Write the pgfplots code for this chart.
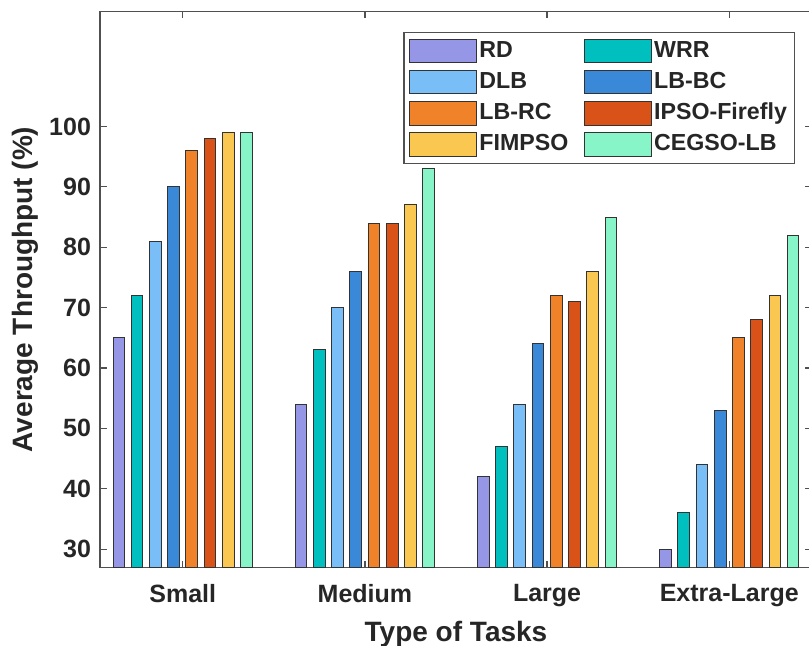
\documentclass[border=0pt]{standalone}
\usepackage{pgfplots}
\pgfplotsset{compat=1.18}
\usepackage{fontspec}
\setmainfont{Liberation Sans}
\definecolor{cRD}{HTML}{9696E6}
\definecolor{cWRR}{HTML}{00BFBF}
\definecolor{cDLB}{HTML}{7ABEF7}
\definecolor{cLBBC}{HTML}{3A88D8}
\definecolor{cLBRC}{HTML}{F0822A}
\definecolor{cIPSO}{HTML}{D95319}
\definecolor{cFIM}{HTML}{FAC850}
\definecolor{cCEG}{HTML}{88F5C8}
\definecolor{txt}{HTML}{262626}
\definecolor{axgray}{HTML}{505050}
\begin{document}
\begin{tikzpicture}
\begin{axis}[
 name=ax,
 scale only axis,
 width=356pt, height=277.8pt,
 xmin=0.546, xmax=4.454, ymin=27, ymax=119,
 xtick={1,2,3,4}, xticklabels={Small,Medium,Large,Extra-Large},
 ytick={30,40,...,100},
 ybar, bar width=0.064,
 axis line style={draw=axgray, line width=0.6pt},
 tick style={draw=axgray, line width=0.6pt},
 major tick length=3.3pt,
 tick align=inside,
 ticklabel style={font=\fontsize{12.5}{14}\selectfont\bfseries, text=txt},
 xticklabel style={yshift=-5pt},
 yticklabel style={xshift=-1pt},
 /pgf/number format/assume math mode=true,
 xlabel={Type of Tasks}, ylabel={Average Throughput (\%)},
 label style={font=\fontsize{14}{16}\selectfont\bfseries, text=txt},
 xlabel style={at={(axis description cs:0.5,-0.1332)}, anchor=base},
 ylabel style={at={(axis description cs:-0.0941,0.5)}, anchor=base},
 legend columns=2, legend cell align=left,
 legend style={at={(axis description cs:0.976,0.9635)}, anchor=north east,
   draw=axgray, line width=0.6pt, fill=white,
   font=\fontsize{11.6}{13}\selectfont\bfseries, text=txt,
   inner sep=2.5pt, row sep=2.1pt,
   /tikz/every even column/.append style={column sep=6.5pt},
   nodes={inner sep=1.2pt, text height=8.6pt, text depth=2.5pt}},
 every axis plot post/.append style={draw=black!80, line width=0.5pt,
   legend image code/.code={\draw[##1] (0pt,-5.85pt) rectangle (33.5pt,5.85pt);}},
]
\addplot[fill=cRD, bar shift=-0.35] coordinates {(1,65) (2,54) (3,42) (4,30)};
\addlegendentry{RD}
\addplot[fill=cWRR, bar shift=-0.25] coordinates {(1,72) (2,63) (3,47) (4,36)};
\addlegendentry{WRR}
\addplot[fill=cDLB, bar shift=-0.15] coordinates {(1,81) (2,70) (3,54) (4,44)};
\addlegendentry{DLB}
\addplot[fill=cLBBC, bar shift=-0.05] coordinates {(1,90) (2,76) (3,64) (4,53)};
\addlegendentry{LB-BC}
\addplot[fill=cLBRC, bar shift=0.05] coordinates {(1,96) (2,84) (3,72) (4,65)};
\addlegendentry{LB-RC}
\addplot[fill=cIPSO, bar shift=0.15] coordinates {(1,98) (2,84) (3,71) (4,68)};
\addlegendentry{IPSO-Firefly}
\addplot[fill=cFIM, bar shift=0.25] coordinates {(1,99) (2,87) (3,76) (4,72)};
\addlegendentry{FIMPSO}
\addplot[fill=cCEG, bar shift=0.35] coordinates {(1,99) (2,93) (3,85) (4,82)};
\addlegendentry{CEGSO-LB}
\end{axis}
\pgfresetboundingbox
\path[use as bounding box] ([xshift=-50pt,yshift=-39.35pt]ax.south west) rectangle ([xshift=354.5pt,yshift=283.65pt]ax.south west);
\end{tikzpicture}
\end{document}
